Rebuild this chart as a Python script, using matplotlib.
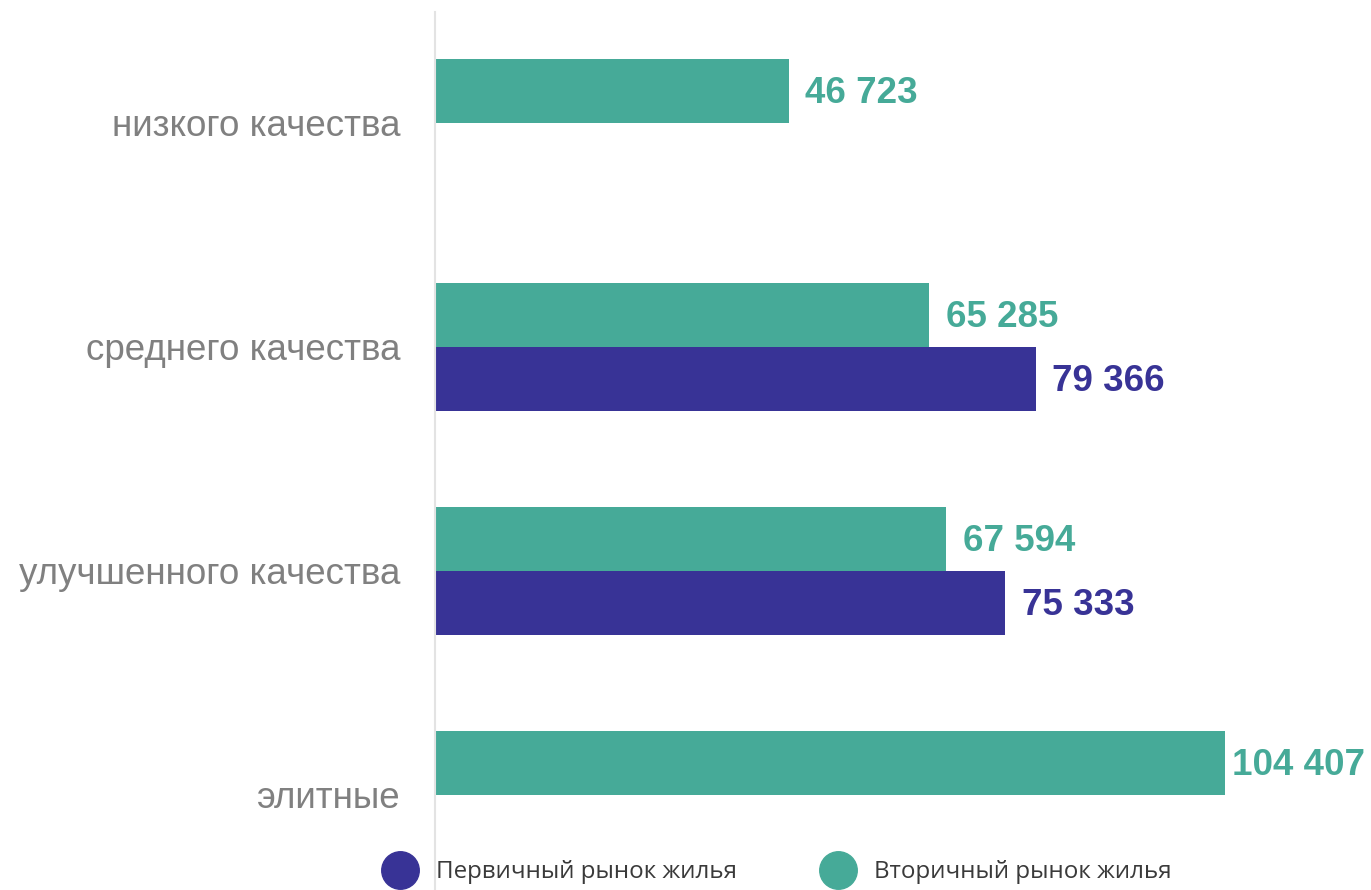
import matplotlib
matplotlib.use("Agg")
import matplotlib.pyplot as plt
from matplotlib.lines import Line2D

categories = ["низкого качества", "среднего качества", "улучшенного качества", "элитные"]
secondary = [46723, 65285, 67594, 104407]
primary = [None, 79366, 75333, None]
series_names = ["Первичный рынок жилья", "Вторичный рынок жилья"]

teal = "#46AA98"
purple = "#383396"
gray = "#808080"

W, H = 1371, 890
fig = plt.figure(figsize=(W / 100, H / 100), dpi=100)
ax = fig.add_axes([435 / W, 0, 1 - 435 / W, (H - 12) / H])

h = 64 / 224
scale_max = 104407 * (W - 435) / 790

def fmt(v):
    return f"{v:,}".replace(",", " ")

labels = []
for vals, off, col in [(secondary, -h / 2, teal), (primary, h / 2, purple)]:
    for i, v in enumerate(vals):
        if v is None:
            continue
        ax.barh(i + off, v, height=h, color=col)
        t = ax.annotate(fmt(v), (v, i + off), xytext=(12, -1.5), textcoords="offset points",
                        va="center", ha="left", color=col, fontsize=26.5, fontweight="bold",
                        family="Liberation Sans")
        labels.append(t)

ax.set_xlim(0, scale_max)
ax.set_ylim((890 - 123) / 224, -111 / 224)
ax.set_yticks(range(len(categories)))
ax.set_yticklabels(categories, fontsize=26.5, color=gray, family="Liberation Sans")
ax.tick_params(axis="y", length=0, pad=25)
ax.set_xticks([])
for s in ["top", "right", "bottom"]:
    ax.spines[s].set_visible(False)
ax.spines["left"].set_color("#e3e3e3")
ax.spines["left"].set_linewidth(1.5)

handles = [Line2D([], [], marker="o", linestyle="none", markersize=27, color=purple),
           Line2D([], [], marker="o", linestyle="none", markersize=27, color=teal)]
leg = fig.legend(handles, series_names, loc="center left", bbox_to_anchor=(388 / W, 1 - 872 / H),
                 ncol=2, frameon=False, fontsize=17.4, handletextpad=1.0, columnspacing=3.65,
                 borderaxespad=0, borderpad=0, handlelength=1.0)
for t in leg.get_texts():
    t.set_color("#3a3a3a")
    t.set_family("Open Sans")

# keep value labels inside the figure
fig.canvas.draw()
r = fig.canvas.get_renderer()
for t in labels:
    bb = t.get_window_extent(r)
    if bb.x1 > W - 6:
        dx = (bb.x1 - (W - 6)) * 72 / 100
        x0, y0 = t.xyann
        t.xyann = (x0 - dx, y0)

fig.savefig("out.png", dpi=100)
